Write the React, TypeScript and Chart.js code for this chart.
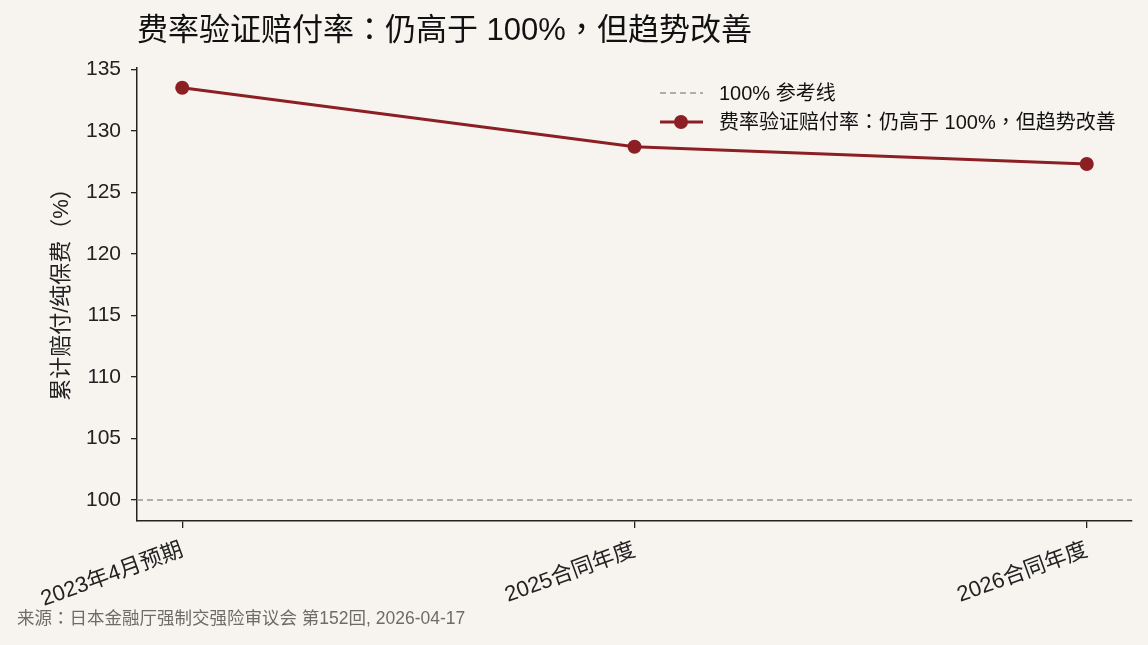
import { useEffect, useRef } from 'react';
import Chart from 'chart.js/auto';

const categories = ['2023年4月预期', '2025合同年度', '2026合同年度'];
const lossRatio = [133.5, 128.7, 127.3];
const referenceLevel = 100;
const yTicks = [100, 105, 110, 115, 120, 125, 130, 135];

const titleText = '费率验证赔付率：仍高于 100%，但趋势改善';
const yTitle = '累计赔付/纯保费（%）';
const refLabel = '100% 参考线';
const sourceText = '来源：日本金融厅强制交强险审议会 第152回, 2026-04-17';

const FONT = "'Liberation Sans', 'Noto Sans CJK TC', sans-serif";
const RED = '#8b1f23';
const GREY = '#9a9693';
const BG = '#f7f4f0';

const App = () => {
    const canvas = useRef<HTMLCanvasElement>(null);

    useEffect(() => {
        document.body.style.margin = '0';
        document.body.style.background = BG;

        // title, axis title, legend and source note drawn on the canvas
        const extras = {
            id: 'extras',
            afterDraw(chart: any) {
                const ctx = chart.ctx;
                ctx.save();
                ctx.fillStyle = '#111';
                ctx.textBaseline = 'middle';
                ctx.textAlign = 'left';
                ctx.font = `31px ${FONT}`;
                ctx.fillText(titleText, 137, 31);

                ctx.save();
                ctx.translate(62, 289);
                ctx.rotate(-Math.PI / 2);
                ctx.textAlign = 'center';
                ctx.font = `22px ${FONT}`;
                ctx.fillStyle = '#222';
                ctx.fillText(yTitle, 0, 0);
                ctx.restore();

                ctx.font = `17.5px ${FONT}`;
                ctx.fillStyle = '#6e6b68';
                ctx.fillText(sourceText, 17, 619);

                ctx.font = `20px ${FONT}`;
                ctx.strokeStyle = GREY;
                ctx.lineWidth = 1.5;
                ctx.setLineDash([6, 4]);
                ctx.beginPath();
                ctx.moveTo(660, 93);
                ctx.lineTo(703, 93);
                ctx.stroke();
                ctx.setLineDash([]);
                ctx.fillStyle = '#111';
                ctx.fillText(refLabel, 719, 94);

                ctx.strokeStyle = RED;
                ctx.lineWidth = 3;
                ctx.beginPath();
                ctx.moveTo(660, 122);
                ctx.lineTo(703, 122);
                ctx.stroke();
                ctx.fillStyle = RED;
                ctx.beginPath();
                ctx.arc(681, 122, 7, 0, Math.PI * 2);
                ctx.fill();
                ctx.fillStyle = '#111';
                ctx.fillText(titleText, 719, 123);
                ctx.restore();
            }
        };

        const chart = new Chart(
            // @ts-expect-error next
            canvas.current,
            {
                type: 'line',
                data: {
                    datasets: [
                        {
                            label: refLabel,
                            data: [{ x: -0.1, y: referenceLevel }, { x: 2.1, y: referenceLevel }],
                            borderColor: GREY,
                            borderWidth: 1.5,
                            borderDash: [6, 4],
                            pointRadius: 0,
                            order: 2
                        },
                        {
                            label: titleText,
                            data: lossRatio.map((v, i) => ({ x: i, y: v })),
                            borderColor: RED,
                            backgroundColor: RED,
                            borderWidth: 3,
                            pointRadius: 7,
                            pointBackgroundColor: RED,
                            pointBorderWidth: 0,
                            order: 1
                        }
                    ]
                },
                options: {
                    animation: false,
                    responsive: false,
                    maintainAspectRatio: false,
                    layout: { padding: { left: 0, top: 68, right: 16, bottom: 0 } },
                    plugins: {
                        legend: { display: false },
                        tooltip: { enabled: false },
                        title: { display: false }
                    },
                    scales: {
                        x: {
                            type: 'linear',
                            min: -0.1,
                            max: 2.1,
                            afterFit: (s: any) => { s.height = 124; },
                            afterBuildTicks: (s: any) => { s.ticks = categories.map((_, i) => ({ value: i })); },
                            grid: { display: true, drawOnChartArea: false, drawTicks: true, tickLength: 7, color: '#222', lineWidth: 1.3 },
                            border: { display: true, color: '#222', width: 1.5 },
                            ticks: {
                                color: '#222',
                                font: { family: FONT, size: 22 },
                                minRotation: 20,
                                maxRotation: 20,
                                autoSkip: false,
                                padding: 9,
                                callback: (v: any) => categories[v as number] ?? ''
                            }
                        },
                        y: {
                            min: 98.3,
                            max: 135.1,
                            afterFit: (s: any) => { s.width = 137; },
                            afterBuildTicks: (s: any) => { s.ticks = yTicks.map(v => ({ value: v })); },
                            grid: { display: true, drawOnChartArea: false, drawTicks: true, tickLength: 6, color: '#222', lineWidth: 1.3 },
                            border: { display: true, color: '#222', width: 1.5 },
                            ticks: {
                                color: '#222',
                                font: { family: FONT, size: 21 },
                                padding: 10
                            }
                        }
                    }
                },
                plugins: [extras]
            }
        );

        return () => {
            chart.destroy();
        };
    }, []);

    return (
        <div style={{ width: 1148, height: 645, background: BG }}>
            <canvas ref={canvas} width={1148} height={645} role="img" aria-label={titleText}></canvas>
        </div>
    );
};

export default App;
